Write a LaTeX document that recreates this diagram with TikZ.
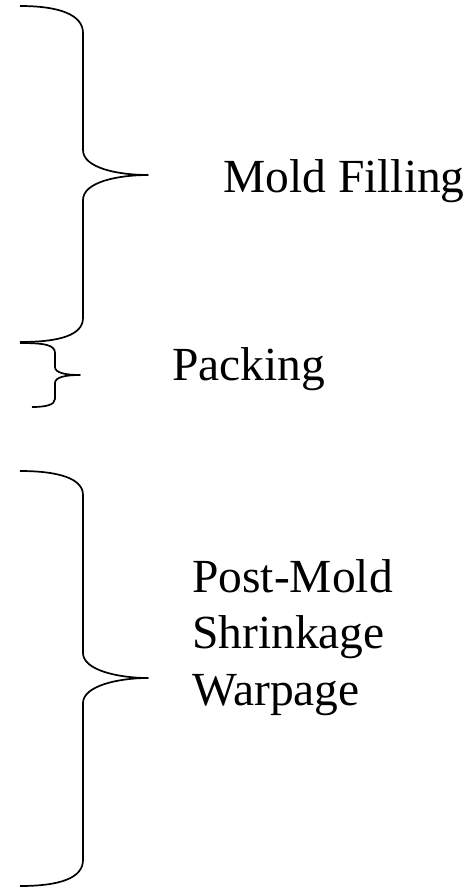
\documentclass[tikz,border=0pt]{standalone}
\usepackage{fontspec}
\setmainfont{Liberation Serif}
\begin{document}
\begin{tikzpicture}[x=1pt,y=-1pt,
  bracepath/.style={draw=black,line width=1.7pt,line join=round},
  phase/.style={inner sep=0pt,anchor=base west,align=left,
    font=\fontsize{47.5pt}{56.5pt}\selectfont}]
\useasboundingbox (0,0) rectangle (472,887);

% tips of the three braces
\coordinate (tipA) at (148,175);
\coordinate (tipB) at (80,375);
\coordinate (tipC) at (148,678);

% filling stage
\draw[bracepath] (20,6) .. controls (60,6) and (83,15) .. (83,33)
  -- (83,150) .. controls (83,168) and (118,175) .. (tipA)
  .. controls (118,175) and (83,182) .. (83,200)
  -- (83,318) .. controls (83,335) and (60,342) .. (20,342);

% packing stage
\draw[bracepath] (20,343) .. controls (45,343) and (55,345) .. (55,353)
  -- (55,367) .. controls (55,373) and (66,375) .. (tipB)
  .. controls (66,375) and (55,377) .. (55,383)
  -- (55,399) .. controls (55,405) and (45,407) .. (32,407);

% post-mold stage
\draw[bracepath] (20,471) .. controls (60,471) and (83,479) .. (83,495)
  -- (83,653) .. controls (83,670) and (118,678) .. (tipC)
  .. controls (118,678) and (83,686) .. (83,703)
  -- (83,860) .. controls (83,878) and (60,886) .. (20,886);

\node[phase] (fill) at (223,192) {Mold Filling};
\node[phase] (pack) at (172,380) {Packing};
% base anchor of a multi-line node sits on its last line
\node[phase] (post) at (192,705) {Post-Mold\\Shrinkage\\Warpage};
\end{tikzpicture}
\end{document}
